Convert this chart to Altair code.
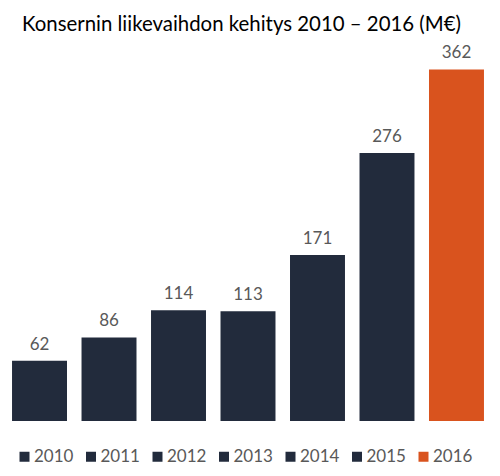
import altair as alt
import pandas as pd

years = ["2010", "2011", "2012", "2013", "2014", "2015", "2016"]
values = [62, 86, 114, 113, 171, 276, 362]
colors = ["#222B3C", "#222B3C", "#222B3C", "#222B3C", "#222B3C", "#222B3C", "#D9531E"]
title_text = "Konsernin liikevaihdon kehitys 2010 – 2016 (M€)"

df = pd.DataFrame({"year": years, "value": values})

FONT = "Lato"
GRAY = "#595959"

x = alt.X("year:N", sort=years, axis=None,
          scale=alt.Scale(paddingInner=0.209, paddingOuter=0.058))
y = alt.Y("value:Q", axis=None, scale=alt.Scale(domain=[0, 382], nice=False))

bars = alt.Chart(df).mark_bar().encode(
    x=x,
    y=y,
    color=alt.Color(
        "year:N",
        scale=alt.Scale(domain=years, range=colors),
        legend=alt.Legend(
            title=None,
            orient="none",
            legendX=8,
            legendY=398,
            direction="horizontal",
            columns=7,
            symbolType="square",
            symbolSize=100,
            symbolStrokeWidth=0,
            labelFont=FONT,
            labelFontSize=17,
            labelColor=GRAY,
            labelOffset=1,
            columnPadding=8.5,
            padding=0,
        ),
    ),
)

labels = alt.Chart(df).mark_text(
    baseline="bottom", dy=-7, font=FONT, fontSize=17, color=GRAY
).encode(x=x, y=y, text="value:Q")

chart = alt.layer(bars, labels).properties(
    width=480,
    height=371,
    autosize=alt.AutoSizeParams(type="none"),
    padding={"left": 0, "top": 42, "right": 4, "bottom": 47},
    title=alt.TitleParams(
        title_text,
        anchor="start",
        frame="group",
        font=FONT,
        fontSize=20.4,
        fontWeight="normal",
        color="#000000",
        baseline="alphabetic",
        offset=18,
        dx=14,
        dy=25,
    ),
).configure_view(stroke=None)

chart.save("out.html", embed_options={"renderer": "svg", "actions": False})
